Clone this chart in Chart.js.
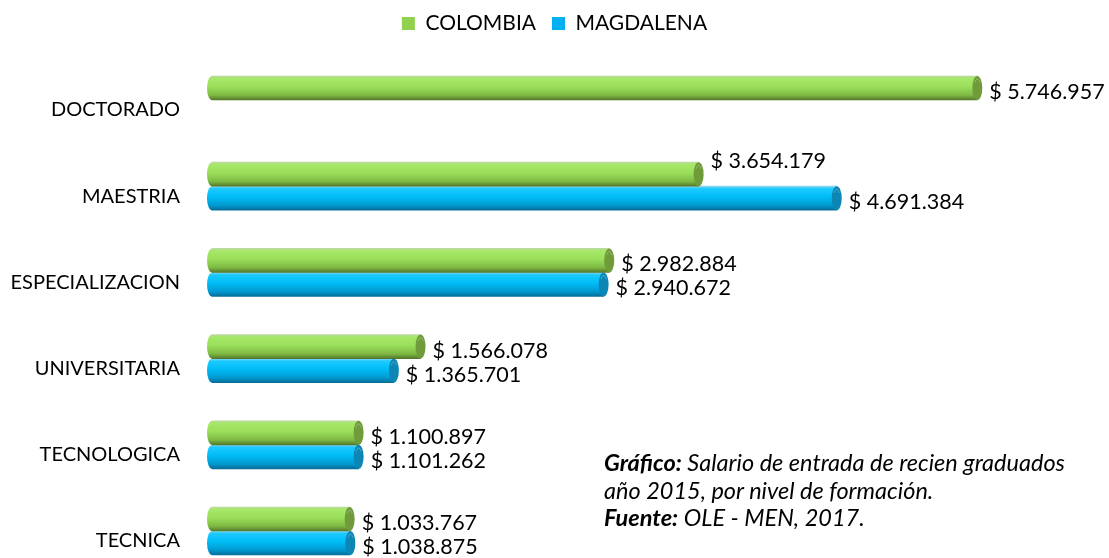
<!DOCTYPE html>
<html lang="es">
<head>
<meta charset="utf-8">
<title>Salario de entrada de recién graduados</title>
<script src="https://cdn.jsdelivr.net/npm/chart.js@4.4.1/dist/chart.umd.min.js"></script>
<style>
  html, body { margin: 0; padding: 0; background: #fff; overflow: hidden; }
  #contenedor { position: relative; width: 1109px; height: 558px; }
  #nota {
    position: absolute; left: 604px; top: 449px;
    font-family: Lato, sans-serif; font-style: italic; font-size: 23.5px;
    line-height: 27.5px; color: #000; white-space: nowrap;
  }
</style>
</head>
<body>
<div id="contenedor">
  <canvas id="grafico"></canvas>
  <div id="nota"><b>Gráfico:</b> Salario de entrada de recien graduados<br>año 2015, por nivel de formación.<br><b>Fuente:</b> OLE - MEN, 2017.</div>
</div>
<script>
// Datos
const categorias = ['DOCTORADO', 'MAESTRIA', 'ESPECIALIZACION', 'UNIVERSITARIA', 'TECNOLOGICA', 'TECNICA'];
const series = ['COLOMBIA', 'MAGDALENA'];
const colombia = [5746957, 3654179, 2982884, 1566078, 1100897, 1033767];
const magdalena = [null, 4691384, 2940672, 1365701, 1101262, 1038875];

// Estilo
const GROSOR = 24;   // alto de cada cilindro
const RX = 5;        // radio horizontal de las tapas
const MARGEN_DER = 98;
const solidos = ['#92d050', '#00b0f0'];
const tapas = ['#6f9b3b', '#0b86b5'];
const degradados = [
  [[0, '#bcd8a0'], [0.1, '#a6e868'], [0.45, '#9ade5a'], [0.8, '#7eb943'], [1, '#55782b']],
  [[0, '#8fd6f0'], [0.1, '#1ccaff'], [0.45, '#00bcf6'], [0.8, '#0199cf'], [1, '#046d99']]
];

function relleno(stops) {
  return (c) => {
    const chart = c.chart;
    const y = chart.scales && chart.scales.y;
    if (!y || c.dataIndex === undefined) return stops[2][1];
    const centro = y.getPixelForValue(c.dataIndex);
    const arriba = c.datasetIndex === 0 ? centro - GROSOR : centro;
    const g = chart.ctx.createLinearGradient(0, arriba, 0, arriba + GROSOR);
    stops.forEach(([p, col]) => g.addColorStop(p, col));
    return g;
  };
}

const formato = v => '$ ' + String(v).replace(/\B(?=(\d{3})+(?!\d))/g, '.');

// Tapas de los cilindros y etiquetas de valor
const cilindros = {
  id: 'cilindros',
  beforeLayout(chart) {
    const leyenda = chart.legend;
    if (leyenda && !leyenda._ajustada) {
      const fit = leyenda.fit, draw = leyenda.draw;
      leyenda.fit = function () { fit.call(this); this.height = 100; };
      // centrar la leyenda en todo el lienzo y no solo en el área útil
      leyenda.draw = function () {
        this.ctx.save();
        this.ctx.translate(MARGEN_DER / 2, -3);
        draw.call(this);
        this.ctx.restore();
      };
      leyenda._ajustada = true;
    }
  },
  afterDatasetsDraw(chart) {
    const ctx = chart.ctx;
    const metas = chart.data.datasets.map((d, i) => chart.getDatasetMeta(i));
    chart.data.datasets.forEach((ds, di) => {
      metas[di].data.forEach((bar, i) => {
        const v = ds.data[i];
        if (v == null) return;
        const { x, y, base, height } = bar.getProps(['x', 'y', 'base', 'height'], true);
        const r = height / 2;
        ctx.save();
        ctx.fillStyle = bar.options.backgroundColor;
        ctx.beginPath();
        ctx.ellipse(base, y, RX, r, 0, Math.PI / 2, Math.PI * 1.5);
        ctx.fill();
        ctx.fillStyle = tapas[di];
        ctx.beginPath();
        ctx.ellipse(x, y, RX, r, 0, 0, Math.PI * 2);
        ctx.fill();
        ctx.strokeStyle = 'rgba(255,255,255,0.25)';
        ctx.lineWidth = 1;
        ctx.beginPath();
        ctx.ellipse(x, y, RX - 2, r - 3, 0, Math.PI * 1.2, Math.PI * 1.8);
        ctx.stroke();

        // si la barra de abajo es mucho más larga, la etiqueta sube
        let dy = 4;
        if (di === 0) {
          const abajo = metas[1].data[i];
          if (abajo && chart.data.datasets[1].data[i] != null && abajo.x > x + 20) dy = -13;
        }
        ctx.fillStyle = '#000';
        ctx.font = '21.5px Lato';
        ctx.textAlign = 'left';
        ctx.textBaseline = 'middle';
        ctx.fillText(formato(v), x + 12, y + dy);
        ctx.restore();
      });
    });
  }
};

const ctx = document.getElementById('grafico').getContext('2d');
new Chart(ctx, {
  type: 'bar',
  data: {
    labels: categorias,
    datasets: [
      { label: series[0], data: colombia, backgroundColor: relleno(degradados[0]), barThickness: GROSOR, borderWidth: 0, clip: false },
      { label: series[1], data: magdalena, backgroundColor: relleno(degradados[1]), barThickness: GROSOR, borderWidth: 0, clip: false }
    ]
  },
  options: {
    indexAxis: 'y',
    responsive: true,
    maintainAspectRatio: false,
    animation: false,
    layout: { padding: { top: 0, right: MARGEN_DER, bottom: 27, left: 0 } },
    scales: {
      x: { display: false, min: 0, max: 6000000 },
      y: {
        offset: false,
        grid: { display: false },
        border: { display: false },
        ticks: { color: '#000', font: { family: 'Lato', size: 20 }, padding: 24, labelOffset: 10 },
        afterFit(s) { s.width = 212; s.paddingTop = 0; s.paddingBottom = 0; }
      }
    },
    plugins: {
      legend: {
        position: 'top',
        labels: {
          color: '#000',
          font: { family: 'Lato', size: 21 },
          boxWidth: 13,
          boxHeight: 13,
          padding: 16,
          generateLabels: chart => chart.data.datasets.map((d, i) => ({
            text: d.label, fillStyle: solidos[i], strokeStyle: solidos[i],
            lineWidth: 0, datasetIndex: i, fontColor: '#000'
          }))
        }
      },
      tooltip: { enabled: false }
    }
  },
  plugins: [cilindros]
});
</script>
</body>
</html>
